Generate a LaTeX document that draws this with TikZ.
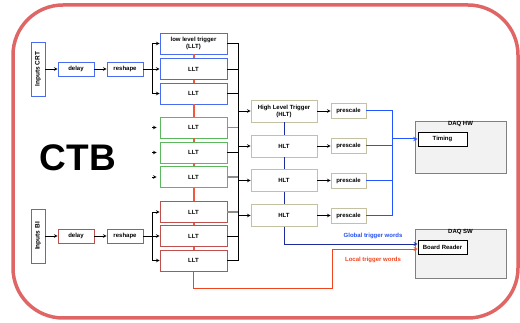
\documentclass[tikz,border=0pt]{standalone}
\usepackage{fontspec}
\setmainfont{Liberation Sans}
\usetikzlibrary{arrows,shadows}
\definecolor{frame}{HTML}{E06666}
\definecolor{crt}{HTML}{4A6CF0}
\definecolor{grn}{HTML}{5CB85C}
\definecolor{bi}{HTML}{C0504D}
\definecolor{tan}{HTML}{C4C0A2}
\definecolor{hwblue}{HTML}{2255FF}
\definecolor{navy}{HTML}{1C2C9C}
\definecolor{local}{HTML}{F0441E}
\definecolor{spine}{HTML}{EE5A40}
\definecolor{outg}{HTML}{8C8C8C}
\definecolor{daqfill}{HTML}{F2F2F2}
\definecolor{daqln}{HTML}{808080}
\tikzset{
  every node/.style={font=\bfseries\fontsize{6}{7}\selectfont},
  box/.style={draw,fill=white,align=center,inner sep=1pt,line width=0.9pt},
  inbox/.style={box,rotate=90,minimum width=54,minimum height=14,
                font=\bfseries\fontsize{6.5}{7}\selectfont},
  small/.style={box,minimum width=36,minimum height=14},
  llt/.style={box,minimum width=67,minimum height=21},
  hlt/.style={box,draw=tan,minimum width=66,minimum height=22,
              drop shadow={shadow xshift=1pt,shadow yshift=-1pt,opacity=0.25}},
  pre/.style={hlt,minimum width=35,minimum height=15},
  daq/.style={draw=daqln,fill=daqfill,line width=0.8pt,minimum width=91},
  inner/.style={draw=black,fill=white,line width=0.7pt,minimum width=49,
                minimum height=14,inner sep=1pt},
  ar/.style={->,>=stealth,line width=0.6pt},
  wire/.style={line width=0.7pt},
  grey/.style={line width=1.3pt,draw=outg},
  hw/.style={line width=1pt,draw=hwblue},
  glob/.style={->,>=stealth,line width=0.8pt,draw=navy},
  loc/.style={->,>=stealth,line width=0.8pt,draw=local},
  lab/.style={font=\bfseries\fontsize{6}{7}\selectfont,inner sep=1pt},
  link/.style={draw=spine,line width=2pt},
}
\begin{document}
\begin{tikzpicture}[x=1pt,y=-1pt]
\useasboundingbox (0,0) rectangle (520,323);
\draw[frame,line width=3.5pt,rounded corners=50] (13,5) rectangle (518,318);

\node[font=\bfseries\fontsize{37}{37}\selectfont] (ctb) at (78,158) {CTB};

% CRT inputs
\node[inbox,draw=crt] (incrt) at (38,69) {Inputs CRT};
\node[small,draw=crt] (d1) at (76,69) {delay};
\node[small,draw=crt] (rs1) at (125,69) {reshape};
\node[llt,draw=crt] (l1) at (193.5,43.5) {low level trigger\\(LLT)};
\node[llt,draw=crt] (l2) at (193.5,69) {LLT};
\node[llt,draw=crt] (l3) at (193.5,93.5) {LLT};

% unused
\node[llt,draw=grn] (g1) at (193.5,127.5) {LLT};
\node[llt,draw=grn] (g2) at (193.5,152.5) {LLT};
\node[llt,draw=grn] (g3) at (193.5,177) {LLT};

% BI inputs
\node[inbox,draw=bi] (inbi) at (38,236) {Inputs BI};
\node[small,draw=bi] (d2) at (76,236) {delay};
\node[small,draw=bi] (rs2) at (125,236) {reshape};
\node[llt,draw=bi] (r1) at (193.5,212) {LLT};
\node[llt,draw=bi] (r2) at (193.5,236) {LLT};
\node[llt,draw=bi] (r3) at (193.5,260.5) {LLT};

\draw[link] (l1.south) -- (l2.north);
\draw[link] (l2.south) -- (l3.north);
\draw[link] (l3.south) -- (g1.north);
\draw[link] (g1.south) -- (g2.north);
\draw[link] (g2.south) -- (g3.north);
\draw[link] (g3.south) -- (r1.north);
\draw[link] (r1.south) -- (r2.north);
\draw[link] (r2.south) -- (r3.north);

\draw[ar] (incrt) -- (d1);
\draw[ar] (d1) -- (rs1);
\draw[ar] (rs1) -- (l2);
\coordinate (b1) at (152,69);
\draw[ar] (b1) |- (l1.west);
\draw[ar] (b1) |- (l3.west);

\draw[ar] (inbi) -- (d2);
\draw[ar] (d2) -- (rs2);
\draw[ar] (rs2) -- (r2);
\coordinate (b2) at (152,236);
\draw[ar] (b2) |- (r1.west);
\draw[ar] (b2) |- (r3.west);

\coordinate (gi1) at (152,127.5);
\coordinate (gi2) at (152,152.5);
\coordinate (gi3) at (152,177);
\draw[ar,shorten >=3pt] (gi1) -- (g1.west);
\draw[ar,shorten >=3pt] (gi2) -- (g2.west);
\draw[ar,shorten >=3pt] (gi3) -- (g3.west);

% LLT bus
\coordinate (bt) at (238,43.5);
\coordinate (bb) at (238,260.5);
\draw[wire] (l1.east) -- (bt) -- (bb) -- (r3.east);
\draw[wire] (l2.east) -- (l2.east -| bt);
\draw[wire] (l3.east) -- (l3.east -| bt);
\draw[grey] (g1.east) -- (g1.east -| bt);
\draw[wire] (g2.east) -- (g2.east -| bt);
\draw[grey] (g3.east) -- (g3.east -| bt);
\draw[grey] (r1.east) -- (r1.east -| bt);
\draw[wire] (r2.east) -- (r2.east -| bt);

% HLT and prescale
\node[hlt] (h1) at (284,111) {High Level Trigger\\(HLT)};
\node[hlt] (h2) at (284,146) {HLT};
\node[hlt] (h3) at (284,180.5) {HLT};
\node[hlt] (h4) at (284,215.5) {HLT};
\node[pre] (p1) at (348.5,111) {prescale};
\node[pre] (p2) at (348.5,146) {prescale};
\node[pre] (p3) at (348.5,180.5) {prescale};
\node[pre] (p4) at (348.5,215.5) {prescale};
\foreach \i in {1,...,4}{
  \draw[ar] (h\i.west -| bt) -- (h\i.west);
  \draw[ar] (h\i.east) -- (p\i.west);
}

% DAQ
\node[daq,minimum height=52] (hw) at (460.5,147) {};
\node[lab,anchor=north] (hwlab) at (hw.north) {DAQ HW};
\node[inner] (tm) at (442.5,139) {Timing};
\node[daq,minimum height=49] (sw) at (460.5,253.5) {};
\node[lab,anchor=north] (swlab) at (sw.north) {DAQ SW};
\node[inner] (br) at (442.5,247) {Board Reader};

\coordinate (jt) at (392,111);
\coordinate (jb) at (392,215.5);
\draw[hw] (p1.east) -- (jt) -- (jb) -- (p4.east);
\draw[hw] (p2.east) -- (p2.east -| jt);
\draw[hw] (p3.east) -- (p3.east -| jt);
\draw[hw,->,>=stealth] (tm.west -| jt) -- (tm.west);

\draw[navy,line width=0.8pt] (h1) -- (h2) (h2) -- (h3) (h3) -- (h4);
\draw[glob] (h4.south) |- ([yshift=3pt]br.west);
\coordinate (lc) at (332,288);
\draw[loc] (r3.south) |- (lc) |- ([yshift=-2pt]br.west);

\node[lab,text=hwblue!85!navy] (gtw) at (373,236) {Global trigger words};
\node[lab,text=local] (ltw) at (373,260) {Local trigger words};
\end{tikzpicture}
\end{document}
